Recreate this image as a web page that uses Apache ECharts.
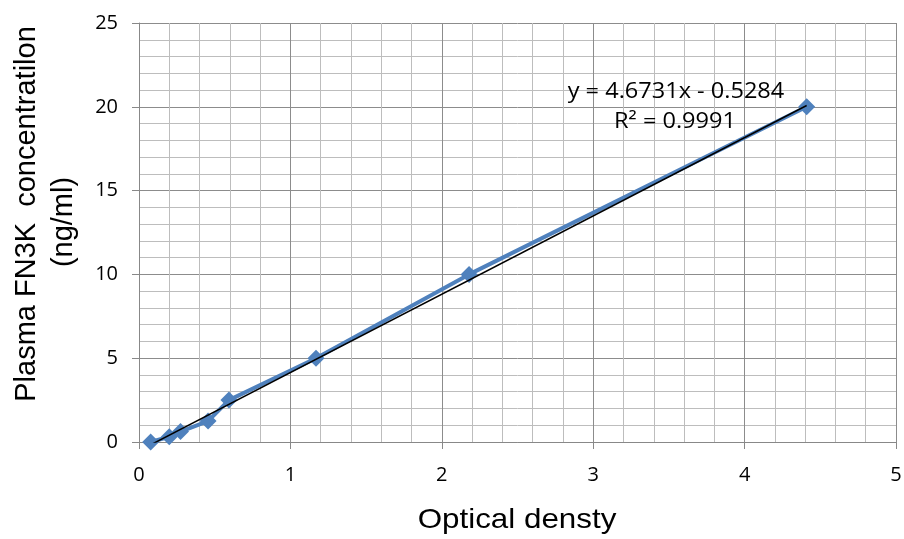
<!DOCTYPE html>
<html><head><meta charset="utf-8">
<script src="https://cdn.jsdelivr.net/npm/echarts@6/dist/echarts.min.js"></script>
<style>html,body{margin:0;padding:0;background:#fff}#c{width:904px;height:539px}</style>
</head><body><div id="c"></div>
<script>
const opticalDensity = [0.077, 0.2, 0.274, 0.456, 0.594, 1.169, 2.18, 4.41];
const concentration = [0, 0.3125, 0.625, 1.25, 2.5, 5, 10, 20];
const trendSlope = 4.6731;
const trendIntercept = -0.5284;
const trendLabel1 = 'y = 4.6731x - 0.5284';
const trendLabel2 = 'R² = 0.9991';
const xTitle = 'Optical densty';
const yTitle1 = 'Plasma FN3K  concentratilon';
const yTitle2 = '(ng/ml)';
const xTicks = [0, 1, 2, 3, 4, 5];
const yTicks = [0, 5, 10, 15, 20, 25];

const pts = opticalDensity.map((x, i) => [x, concentration[i]]);
const xMinD = Math.min(...opticalDensity), xMaxD = Math.max(...opticalDensity);
const trend = [[xMinD, trendSlope * xMinD + trendIntercept], [xMaxD, trendSlope * xMaxD + trendIntercept]];

const chart = echarts.init(document.getElementById('c'), null, {renderer: 'canvas'});
const tickFont = {color: '#000', fontSize: 20, fontFamily: '"Open Sans", Lato, sans-serif'};
const titleFont = '"Liberation Sans", Arial, sans-serif';
chart.setOption({
  animation: false,
  grid: {left: 139, right: 8, top: 23, bottom: 97, containLabel: false, outerBoundsMode: 'none'},
  xAxis: {
    type: 'value', min: xTicks[0], max: xTicks[xTicks.length - 1], interval: 1,
    axisLine: {show: true, lineStyle: {color: '#888', width: 1}},
    axisTick: {show: true, length: 7, lineStyle: {color: '#888'}},
    minorTick: {show: false, splitNumber: 5},
    splitLine: {show: true, lineStyle: {color: '#8c8c8c', width: 1}},
    minorSplitLine: {show: true, lineStyle: {color: '#bdbdbd', width: 1}},
    axisLabel: Object.assign({margin: 23}, tickFont)
  },
  yAxis: {
    type: 'value', min: yTicks[0], max: yTicks[yTicks.length - 1], interval: 5,
    axisLine: {show: true, lineStyle: {color: '#888', width: 1}},
    axisTick: {show: true, length: 7, lineStyle: {color: '#888'}},
    minorTick: {show: false, splitNumber: 5},
    splitLine: {show: true, lineStyle: {color: '#8c8c8c', width: 1}},
    minorSplitLine: {show: true, lineStyle: {color: '#bdbdbd', width: 1}},
    axisLabel: Object.assign({margin: 21}, tickFont)
  },
  series: [
    {
      type: 'line', data: pts, symbol: 'diamond', symbolSize: 17,
      lineStyle: {color: '#4F81BD', width: 4},
      itemStyle: {color: '#4F81BD'}, z: 2
    },
    {
      type: 'line', data: trend, symbol: 'none',
      lineStyle: {color: '#000', width: 1.5}, z: 3
    }
  ],
  graphic: [
    {type: 'text', x: 676, y: 92, scaleX: 1.07, z: 10, style: {text: trendLabel1, fill: '#000', font: '22px "Open Sans", Lato, sans-serif', align: 'center', verticalAlign: 'middle'}},
    {type: 'text', x: 675, y: 122, scaleX: 1.07, z: 10, style: {text: trendLabel2, fill: '#000', font: '22px "Open Sans", Lato, sans-serif', align: 'center', verticalAlign: 'middle'}},
    {type: 'text', x: 517, y: 520, scaleX: 1.12, style: {text: xTitle, fill: '#000', font: '28px ' + titleFont, align: 'center', verticalAlign: 'middle'}},
    {type: 'text', x: 27, y: 214, rotation: Math.PI / 2, style: {text: yTitle1, fill: '#000', font: '29px ' + titleFont, align: 'center', verticalAlign: 'middle'}},
    {type: 'text', x: 64, y: 222, rotation: Math.PI / 2, style: {text: yTitle2, fill: '#000', font: '29px ' + titleFont, align: 'center', verticalAlign: 'middle'}}
  ]
});
</script></body></html>
